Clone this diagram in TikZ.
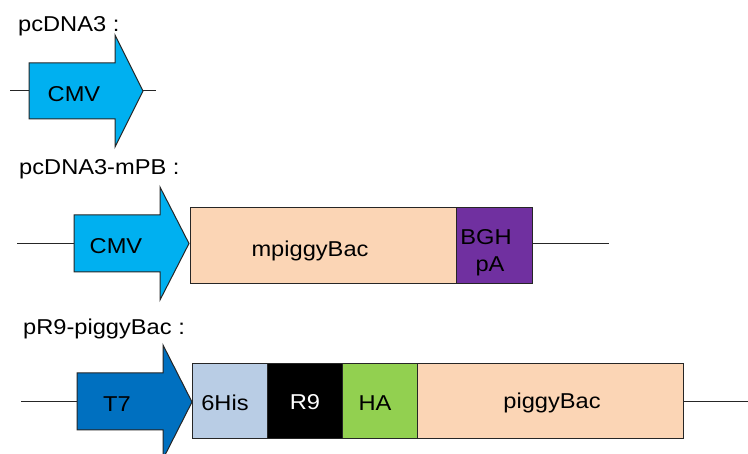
\documentclass[tikz,border=0pt]{standalone}
\usepackage{fontspec}
\setmainfont{Liberation Sans}[FakeStretch=1.1]
\usepackage{tikz}
\usetikzlibrary{positioning}
\definecolor{cmvblue}{HTML}{00B0F0}
\definecolor{tsblue}{HTML}{0070C0}
\definecolor{peach}{HTML}{FBD5B5}
\definecolor{bghpurple}{HTML}{7030A0}
\definecolor{hisblue}{HTML}{B9CDE5}
\definecolor{hagreen}{HTML}{92D050}
\definecolor{edge}{HTML}{262626}
\tikzset{
  part/.style={draw=edge, line width=1pt, minimum height=76pt, inner sep=0pt, outer sep=0pt},
  promoter/.style={draw=edge, line width=1pt, line join=miter},
  backbone/.style={draw=edge, line width=1pt},
  title/.style={anchor=base west, inner sep=0pt},
  lbl/.style={anchor=base, inner sep=0pt}
}

\begin{document}
\begin{tikzpicture}[x=1pt, y=-1pt, font=\fontsize{21.5}{26}\selectfont]
\useasboundingbox (0,0) rectangle (748,454);

% pcDNA3
\node[title] (pcdna) at (18,32) {pcDNA3 :};
\draw[promoter, fill=cmvblue] (29,63) coordinate (cmvA) -- (115,63) -- (115,35)
  -- (143,91) coordinate (cmvAtip) -- (115,147) -- (115,119) -- (29,119) -- cycle;
\coordinate (cmvAw) at (29,91);
\node[lbl] (cmvAlbl) at (74,102) {CMV};
\coordinate (lineAl) at (10,91);
\coordinate (lineAr) at (156,91);
\draw[backbone] (lineAl) -- (cmvAw);
\draw[backbone] (cmvAtip) -- (lineAr);

% pcDNA3-mPB
\node[title] (pcdnampb) at (19,175) {pcDNA3-mPB :};
\draw[promoter, fill=cmvblue] (74,215) -- (160,215) -- (160,187)
  -- (189,243.5) coordinate (cmvBtip) -- (160,300) -- (160,272) -- (74,272) -- cycle;
\coordinate (cmvBw) at (74,243.5);
\node[lbl] (cmvBlbl) at (116,254) {CMV};
\node[part, fill=peach, minimum width=266pt, anchor=west] (mpb) at (190,246) {};
\node[part, fill=bghpurple, minimum width=76pt, right=0pt of mpb] (bgh) {};
\node[lbl] (mpblbl) at (310,257) {mpiggyBac};
\node[lbl] (bghlbl) at (486,245) {BGH};
\node[lbl] (palbl) at (490,272) {pA};
\coordinate (lineBl) at (17,243.5);
\coordinate (lineBr) at (609,243.5);
\draw[backbone] (lineBl) -- (cmvBw);
\draw[backbone] (bgh.east |- lineBr) -- (lineBr);

% pR9-piggyBac
\node[title] (pr) at (23,335) {pR9-piggyBac :};
\draw[promoter, fill=tsblue] (77,373) -- (163,373) -- (163,345)
  -- (192,402) coordinate (tsCtip) -- (163,459) -- (163,430) -- (77,430) -- cycle;
\coordinate (tsCw) at (77,402);
\node[lbl] (tslbl) at (117,412) {T7};
\node[part, fill=hisblue, minimum width=75pt, minimum height=75pt, anchor=west] (his) at (192,401.5) {};
\node[part, fill=black, minimum width=75pt, minimum height=75pt, right=0pt of his] (rnine) {};
\node[part, fill=hagreen, minimum width=75pt, minimum height=75pt, right=0pt of rnine] (ha) {};
\node[part, fill=peach, minimum width=266pt, minimum height=75pt, right=0pt of ha] (pb) {};
\node[lbl] (hislbl) at (225,411) {6His};
\node[lbl, text=white] (rninelbl) at (305,410) {R9};
\node[lbl] (halbl) at (375,411) {HA};
\node[lbl] (pblbl) at (552,409) {piggyBac};
\coordinate (lineCl) at (21,402);
\coordinate (lineCr) at (748,402);
\draw[backbone] (lineCl) -- (tsCw);
\draw[backbone] (pb.east |- lineCr) -- (lineCr);
\end{tikzpicture}
\end{document}
